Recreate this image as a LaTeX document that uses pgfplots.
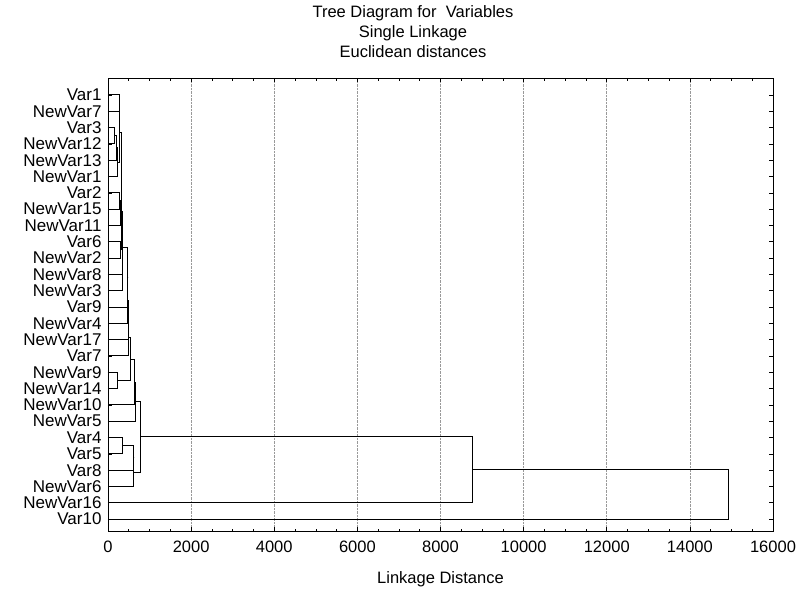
\documentclass[border=0pt]{standalone}
\usepackage{fontspec}
\setmainfont{Liberation Sans}
\usepackage{pgfplots}
\pgfplotsset{compat=1.18}
\usepackage{pgfplotstable}

% dendrogram segments: x = linkage distance, y = leaf row (0 = Var1 at top)
% each merge is one bracket, brackets are separated by nan rows
\pgfplotstableread{
x y
0 0
265 0
265 1
0 1
nan nan
0 2
160 2
160 3
0 3
nan nan
160 2.5
205 2.5
205 4
0 4
nan nan
205 3.25
230 3.25
230 5
0 5
nan nan
265 0.5
275 0.5
275 4.125
230 4.125
nan nan
0 6
285 6
285 7
0 7
nan nan
285 6.5
295 6.5
295 8
0 8
nan nan
275 2.3125
315 2.3125
315 7.25
295 7.25
nan nan
0 9
300 9
300 10
0 10
nan nan
315 4.7813
325 4.7813
325 9.5
300 9.5
nan nan
0 11
345 11
345 12
0 12
nan nan
325 7.1406
355 7.1406
355 11.5
345 11.5
nan nan
355 9.3203
470 9.3203
470 13
0 13
nan nan
470 11.1602
478 11.1602
478 14
0 14
nan nan
478 12.5801
490 12.5801
490 15
0 15
nan nan
490 13.79
500 13.79
500 16
0 16
nan nan
0 17
235 17
235 18
0 18
nan nan
500 14.895
545 14.895
545 17.5
235 17.5
nan nan
545 16.1975
635 16.1975
635 19
0 19
nan nan
635 17.5988
650 17.5988
650 20
0 20
nan nan
0 21
350 21
350 22
0 22
nan nan
350 21.5
615 21.5
615 23
0 23
nan nan
615 22.25
625 22.25
625 24
0 24
nan nan
650 18.7994
770 18.7994
770 23.125
625 23.125
nan nan
770 20.9622
8780 20.9622
8780 25
0 25
nan nan
8780 22.9811
14920 22.9811
14920 26
0 26
}\treedata

\begin{document}
\begin{tikzpicture}
\begin{axis}[
    name=ax,
    width=665pt, height=453pt,
    scale only axis,
    xmin=0, xmax=16000,
    ymin=-1.04, ymax=26.73,
    y dir=reverse,
    xtick={0,2000,4000,6000,8000,10000,12000,14000,16000},
    scaled x ticks=false,
    minor x tick num=3,
    ytick={0,...,26},
    yticklabels={Var1,NewVar7,Var3,NewVar12,NewVar13,NewVar1,Var2,NewVar15,NewVar11,Var6,NewVar2,NewVar8,NewVar3,Var9,NewVar4,NewVar17,Var7,NewVar9,NewVar14,NewVar10,NewVar5,Var4,Var5,Var8,NewVar6,NewVar16,Var10},
    tick align=inside,
    major tick length=4pt,
    minor tick length=2.5pt,
    tick style={black, line width=0.6pt},
    axis line style={line width=0.9pt},
    xmajorgrids=true,
    grid style={densely dotted, gray!80, line width=0.6pt},
    /pgf/number format/assume math mode=true,
    /pgf/number format/1000 sep={},
    ticklabel style={font=\fontsize{16.5}{18}\selectfont},
    yticklabel style={font=\fontsize{17}{18}\selectfont, xshift=-3pt},
    xticklabel style={yshift=-6pt},
    xlabel={Linkage Distance},
    xlabel style={at={(axis description cs:0.5,-0.106)}, anchor=center,
        font=\fontsize{16.5}{18}\selectfont},
    title={Tree Diagram for\ \ Variables\\Single Linkage\\Euclidean distances},
    title style={at={(axis description cs:0.4586,1.0894)}, anchor=center,
        align=center, font=\fontsize{16.5}{20}\selectfont},
    unbounded coords=jump,
]
\addplot[black, line width=1pt, line join=miter] table[x=x, y=y] {\treedata};
\end{axis}
\pgfresetboundingbox
\path[use as bounding box] ([shift={(-108pt,-58pt)}]ax.south west) rectangle ([shift={(30pt,78pt)}]ax.north east);
\end{tikzpicture}
\end{document}
